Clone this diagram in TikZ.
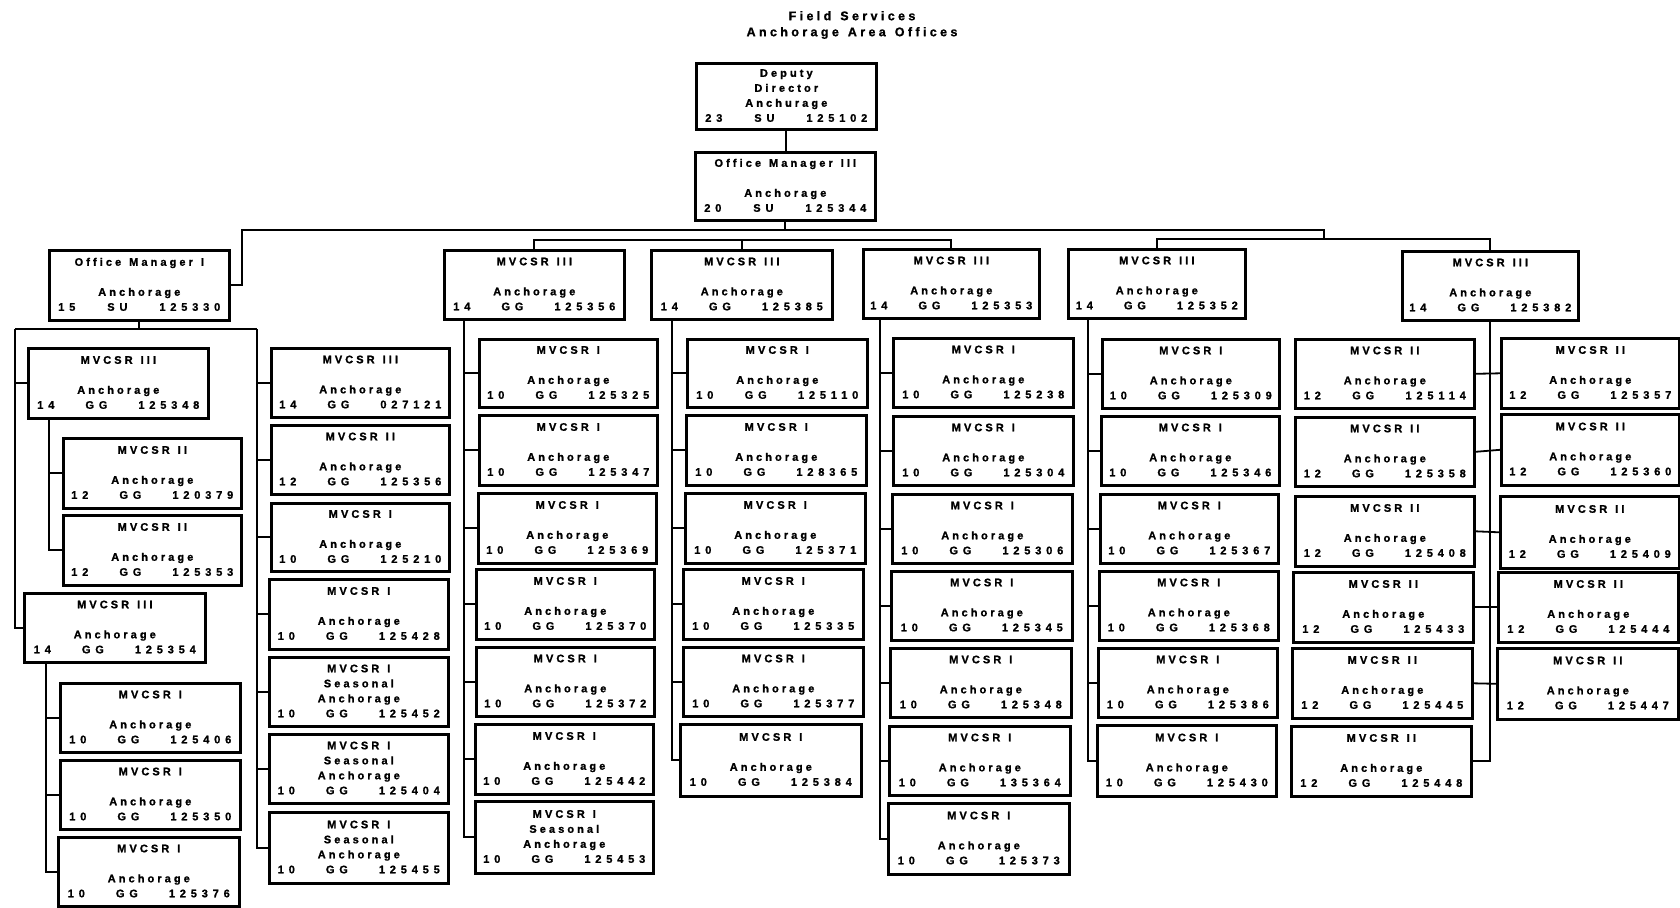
\documentclass[tikz,border=0pt]{standalone}
\usepackage{fontspec}
\newfontfamily\cardfam{Liberation Sans}[LetterSpace=28,FakeBold=1.2]
\newfontfamily\numfam{Liberation Sans}[LetterSpace=44,FakeBold=1.2]
\newfontfamily\headfam{Liberation Sans}[LetterSpace=27,FakeBold=1.2]
% word gaps inside the spaced lettering
\newcommand{\gap}{\hspace{8pt}}
\newcommand{\hgap}{\hspace{9pt}}
\newcommand{\mone}{MVCSR\gap I}
\newcommand{\mtwo}{MVCSR\gap II}
\newcommand{\mthree}{MVCSR\gap III}
% card text: title, second line, place, then grade / class / position number
\newcommand{\ctx}[6]{\strut#1\\\strut#2\\\strut#3\\\makebox[\linewidth]{\strut\numfam\bfseries#4\hfill#5\hfill#6}}
\begin{document}
\begin{tikzpicture}[x=1pt,y=-1pt,
  card/.style 2 args={draw, line width=2.6pt, inner xsep=7pt, inner ysep=0pt,
    anchor=north west, minimum width=#1, minimum height=#2, text width=162pt,
    align=center, font=\cardfam\bfseries\fontsize{11}{15}\selectfont},
  link/.style={line width=1.8pt}]
\useasboundingbox (0,0) rectangle (1680,907);

\node[align=center, font=\headfam\bfseries\fontsize{12.5}{16}\selectfont] (title) at (852,25)
  {Field\hgap Services\\Anchorage\hgap Area\hgap Offices};

% management
\node[card={180}{66}] (dd)  at (695,62)  {\ctx{Deputy}{Director}{Anchurage}{23}{SU}{125102}};
\node[card={180}{68}] (om3) at (694,151) {\ctx{Office\gap Manager\gap III}{}{Anchorage}{20}{SU}{125344}};
\node[card={180}{70}] (om1) at (48,249)  {\ctx{Office\gap Manager\gap I}{}{Anchorage}{15}{SU}{125330}};

% office manager I unit
\node[card={180}{70}] (l1)  at (27,347)  {\ctx{\mthree}{}{Anchorage}{14}{GG}{125348}};
\node[card={178}{70}] (l1a) at (62,437)  {\ctx{\mtwo}{}{Anchorage}{12}{GG}{120379}};
\node[card={178}{70}] (l1b) at (62,514)  {\ctx{\mtwo}{}{Anchorage}{12}{GG}{125353}};
\node[card={181}{69}] (l2)  at (23,592)  {\ctx{\mthree}{}{Anchorage}{14}{GG}{125354}};
\node[card={180}{69}] (l2a) at (59,682)  {\ctx{\mone}{}{Anchorage}{10}{GG}{125406}};
\node[card={180}{69}] (l2b) at (59,759)  {\ctx{\mone}{}{Anchorage}{10}{GG}{125350}};
\node[card={181}{69}] (l2c) at (57,836)  {\ctx{\mone}{}{Anchorage}{10}{GG}{125376}};

\node[card={178}{69}] (r1) at (270,347) {\ctx{\mthree}{}{Anchorage}{14}{GG}{027121}};
\node[card={178}{69}] (r2) at (270,424) {\ctx{\mtwo}{}{Anchorage}{12}{GG}{125356}};
\node[card={178}{68}] (r3) at (270,502) {\ctx{\mone}{}{Anchorage}{10}{GG}{125210}};
\node[card={179}{70}] (r4) at (268,578) {\ctx{\mone}{}{Anchorage}{10}{GG}{125428}};
\node[card={179}{69}] (r5) at (268,656) {\ctx{\mone}{Seasonal}{Anchorage}{10}{GG}{125452}};
\node[card={179}{69}] (r6) at (268,733) {\ctx{\mone}{Seasonal}{Anchorage}{10}{GG}{125404}};
\node[card={179}{71}] (r7) at (268,811) {\ctx{\mone}{Seasonal}{Anchorage}{10}{GG}{125455}};

% MVCSR III units
\node[card={180}{69}] (mA) at (443,249)  {\ctx{\mthree}{}{Anchorage}{14}{GG}{125356}};
\node[card={181}{69}] (mB) at (650,249)  {\ctx{\mthree}{}{Anchorage}{14}{GG}{125385}};
\node[card={176}{69}] (mC) at (862,248)  {\ctx{\mthree}{}{Anchorage}{14}{GG}{125353}};
\node[card={177}{69}] (mD) at (1067,248) {\ctx{\mthree}{}{Anchorage}{14}{GG}{125352}};
\node[card={176}{69}] (mE) at (1401,250) {\ctx{\mthree}{}{Anchorage}{14}{GG}{125382}};

\node[card={178}{68}] (a1) at (478,338) {\ctx{\mone}{}{Anchorage}{10}{GG}{125325}};
\node[card={178}{70}] (a2) at (478,414) {\ctx{\mone}{}{Anchorage}{10}{GG}{125347}};
\node[card={178}{70}] (a3) at (477,492) {\ctx{\mone}{}{Anchorage}{10}{GG}{125369}};
\node[card={178}{70}] (a4) at (475,568) {\ctx{\mone}{}{Anchorage}{10}{GG}{125370}};
\node[card={178}{69}] (a5) at (475,646) {\ctx{\mone}{}{Anchorage}{10}{GG}{125372}};
\node[card={178}{70}] (a6) at (474,723) {\ctx{\mone}{}{Anchorage}{10}{GG}{125442}};
\node[card={178}{72}] (a7) at (474,800) {\ctx{\mone}{Seasonal}{Anchorage}{10}{GG}{125453}};

\node[card={180}{68}] (b1) at (686,338) {\ctx{\mone}{}{Anchorage}{10}{GG}{125110}};
\node[card={180}{70}] (b2) at (685,414) {\ctx{\mone}{}{Anchorage}{10}{GG}{128365}};
\node[card={180}{70}] (b3) at (684,492) {\ctx{\mone}{}{Anchorage}{10}{GG}{125371}};
\node[card={180}{70}] (b4) at (682,568) {\ctx{\mone}{}{Anchorage}{10}{GG}{125335}};
\node[card={180}{69}] (b5) at (682,646) {\ctx{\mone}{}{Anchorage}{10}{GG}{125377}};
\node[card={181}{72}] (b6) at (679,723) {\ctx{\mone}{}{Anchorage}{10}{GG}{125384}};

\node[card={180}{69}] (c1) at (892,337) {\ctx{\mone}{}{Anchorage}{10}{GG}{125238}};
\node[card={180}{69}] (c2) at (892,415) {\ctx{\mone}{}{Anchorage}{10}{GG}{125304}};
\node[card={180}{69}] (c3) at (891,493) {\ctx{\mone}{}{Anchorage}{10}{GG}{125306}};
\node[card={181}{69}] (c4) at (890,570) {\ctx{\mone}{}{Anchorage}{10}{GG}{125345}};
\node[card={181}{69}] (c5) at (889,647) {\ctx{\mone}{}{Anchorage}{10}{GG}{125348}};
\node[card={181}{69}] (c6) at (888,725) {\ctx{\mone}{}{Anchorage}{10}{GG}{135364}};
\node[card={181}{71}] (c7) at (887,802) {\ctx{\mone}{}{Anchorage}{10}{GG}{125373}};

\node[card={177}{69}] (d1) at (1101,338) {\ctx{\mone}{}{Anchorage}{10}{GG}{125309}};
\node[card={178}{69}] (d2) at (1100,415) {\ctx{\mone}{}{Anchorage}{10}{GG}{125346}};
\node[card={178}{69}] (d3) at (1099,493) {\ctx{\mone}{}{Anchorage}{10}{GG}{125367}};
\node[card={179}{69}] (d4) at (1098,570) {\ctx{\mone}{}{Anchorage}{10}{GG}{125368}};
\node[card={179}{69}] (d5) at (1097,647) {\ctx{\mone}{}{Anchorage}{10}{GG}{125386}};
\node[card={179}{71}] (d6) at (1096,724) {\ctx{\mone}{}{Anchorage}{10}{GG}{125430}};

\node[card={179}{69}] (e1) at (1294,338) {\ctx{\mtwo}{}{Anchorage}{12}{GG}{125114}};
\node[card={179}{69}] (e2) at (1294,416) {\ctx{\mtwo}{}{Anchorage}{12}{GG}{125358}};
\node[card={179}{70}] (e3) at (1294,495) {\ctx{\mtwo}{}{Anchorage}{12}{GG}{125408}};
\node[card={180}{70}] (e4) at (1292,571) {\ctx{\mtwo}{}{Anchorage}{12}{GG}{125433}};
\node[card={180}{70}] (e5) at (1291,647) {\ctx{\mtwo}{}{Anchorage}{12}{GG}{125445}};
\node[card={180}{70}] (e6) at (1290,725) {\ctx{\mtwo}{}{Anchorage}{12}{GG}{125448}};

\node[card={178}{70}] (f1) at (1500,337) {\ctx{\mtwo}{}{Anchorage}{12}{GG}{125357}};
\node[card={178}{71}] (f2) at (1500,413) {\ctx{\mtwo}{}{Anchorage}{12}{GG}{125360}};
\node[card={179}{72}] (f3) at (1499,495) {\ctx{\mtwo}{}{Anchorage}{12}{GG}{125409}};
\node[card={180}{70}] (f4) at (1497,571) {\ctx{\mtwo}{}{Anchorage}{12}{GG}{125444}};
\node[card={181}{71}] (f5) at (1496,647) {\ctx{\mtwo}{}{Anchorage}{12}{GG}{125447}};

% upper connectors and buses
\draw[link] (dd.south) -- (dd.south |- om3.north);
\coordinate (busL) at (242,230);
\coordinate (busR) at (1324,230);
\draw[link] (om3.south) -- (om3.south |- busL);
\draw[link] (om1.east) -| (busL) -- (busR) -- ++(0,9);
\draw[link] (mA.north) -- ++(0,-9) -| (mC.north);
\draw[link] (mB.north) -- ++(0,-9);
\draw[link] (mD.north) -- ++(0,-9) -| (mE.north);

% office manager I branches
\coordinate (om1L) at (15,329);
\coordinate (om1R) at (257,329);
\draw[link] (om1.south) -- (om1.south |- om1L);
\draw[link] (om1L) -- (om1R);
\draw[link] (om1L) |- (l2.west);
\draw[link] (om1L |- l1.west) -- (l1.west);
\draw[link] (om1R) |- (r7.west);
\foreach \n in {r1,r2,r3,r4,r5,r6} \draw[link] (om1R |- \n.west) -- (\n.west);

\coordinate (l1t) at ([xshift=22pt]l1.south west);
\draw[link] (l1t) |- (l1b.west);
\draw[link] (l1t |- l1a.west) -- (l1a.west);
\coordinate (l2t) at ([xshift=23pt]l2.south west);
\draw[link] (l2t) |- (l2c.west);
\foreach \n in {l2a,l2b} \draw[link] (l2t |- \n.west) -- (\n.west);

% MVCSR III trunks
\coordinate (At) at ([xshift=21pt]mA.south west);
\draw[link] (At) |- (a7.west);
\foreach \n in {a1,a2,a3,a4,a5,a6} \draw[link] (At |- \n.west) -- (\n.west);
\coordinate (Bt) at ([xshift=22pt]mB.south west);
\draw[link] (Bt) |- (b6.west);
\foreach \n in {b1,b2,b3,b4,b5} \draw[link] (Bt |- \n.west) -- (\n.west);
\coordinate (Ct) at ([xshift=18pt]mC.south west);
\draw[link] (Ct) |- (c7.west);
\foreach \n in {c1,c2,c3,c4,c5,c6} \draw[link] (Ct |- \n.west) -- (\n.west);
\coordinate (Dt) at ([xshift=21pt]mD.south west);
\draw[link] (Dt) |- (d6.west);
\foreach \n in {d1,d2,d3,d4,d5} \draw[link] (Dt |- \n.west) -- (\n.west);
\draw[link] (mE.south) |- (e6.east);
\foreach \l/\r in {e1/f1,e2/f2,e3/f3,e4/f4,e5/f5} \draw[link] (\l.east) -- (\r.west);
\end{tikzpicture}
\end{document}
